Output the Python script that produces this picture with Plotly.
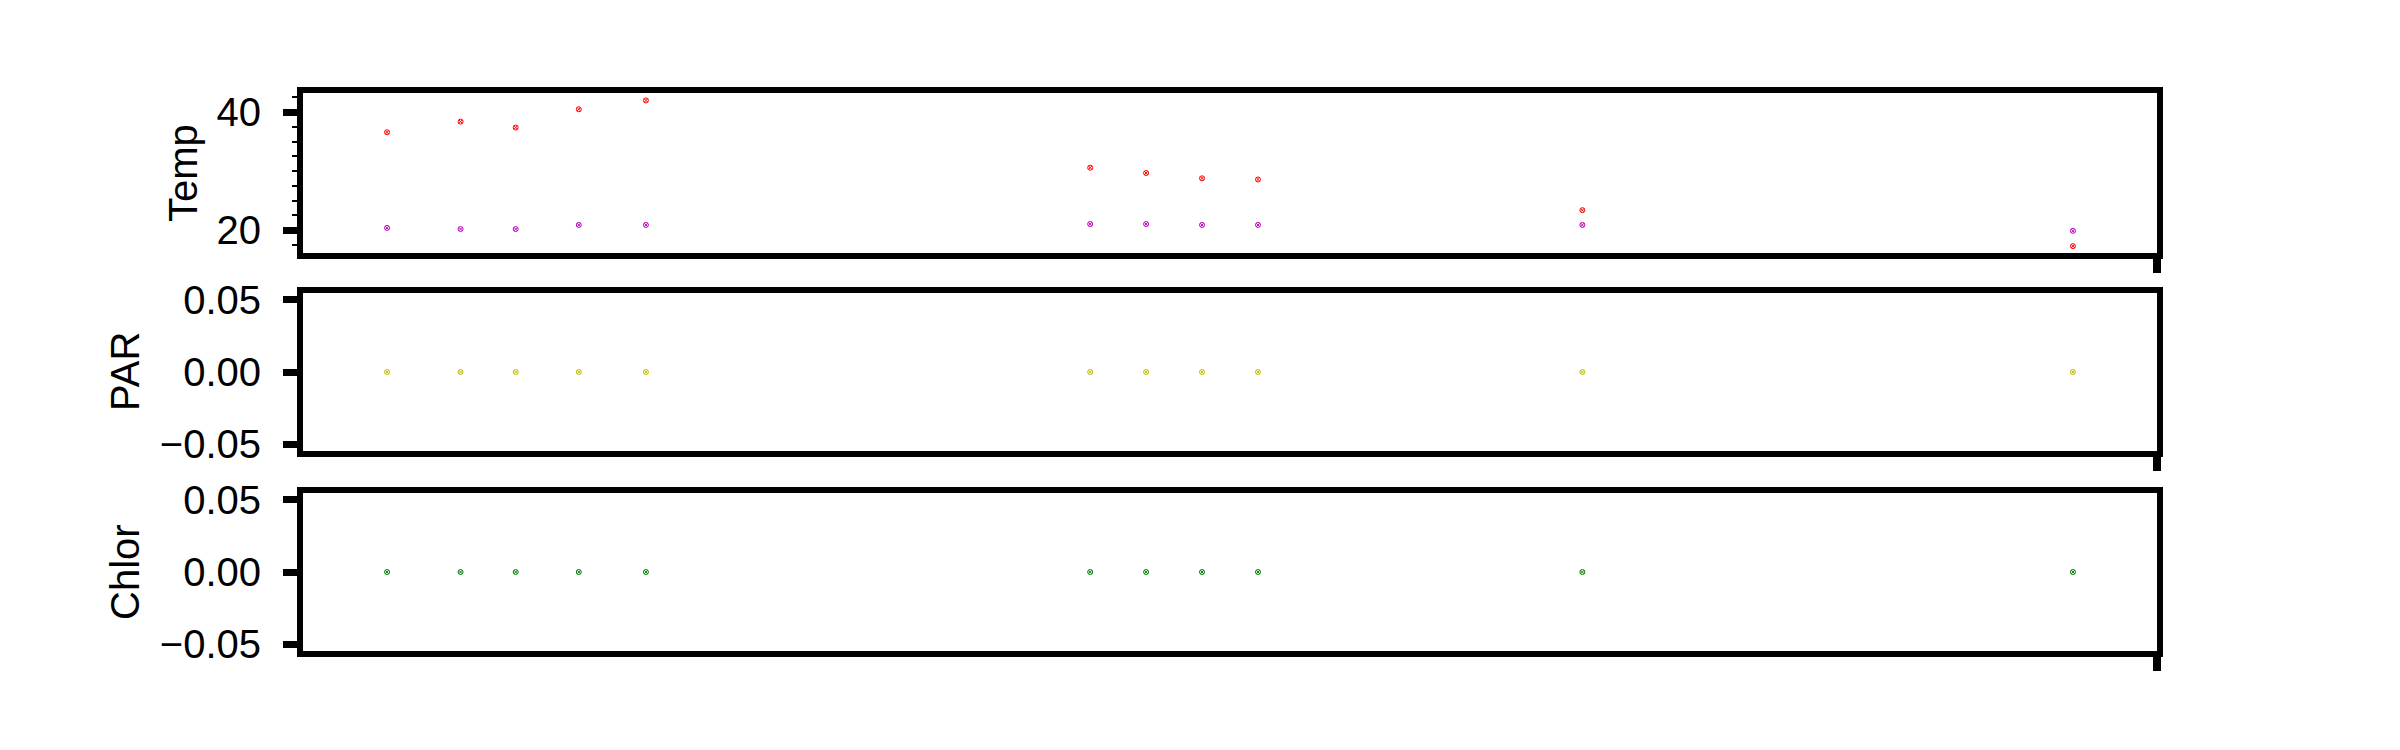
import plotly.graph_objects as go

# ---- data ----
days = [0, 9.2, 16.1, 24.0, 32.4, 88.0, 95.0, 102.0, 109.0, 149.6, 211.0]
temp_red = [36.6, 38.4, 37.4, 40.5, 42.0, 30.6, 29.7, 28.8, 28.6, 23.4, 17.3]
temp_purple = [20.4, 20.2, 20.2, 20.9, 20.9, 21.05, 21.05, 20.9, 20.9, 20.9, 19.9]
par = [0, 0, 0, 0, 0, 0, 0, 0, 0, 0, 0]
chlor = [0, 0, 0, 0, 0, 0, 0, 0, 0, 0, 0]

temp_ticks = [20, 40]
zero_ticks = [-0.05, 0.0, 0.05]
zero_ticktext = ["\u22120.05", "0.00", "0.05"]

W, H = 2400, 750
LW = 5.5
FONT = "Liberation Sans, Arial, sans-serif"

xmin, xmax = min(days), max(days)
pad = 0.05 * (xmax - xmin)
xrange_ = [xmin - pad, xmax + pad]

def px_dom_x(a, b):
    return [(a + LW / 2) / W, (b - LW / 2) / W]

def px_dom_y(top, bottom):
    return [1 - (bottom - LW / 2) / H, 1 - (top + LW / 2) / H]

xdom = px_dom_x(300, 2160)
ydoms = [px_dom_y(90, 256), px_dom_y(290, 454), px_dom_y(490, 654)]

fig = go.Figure()

def mk(color):
    return dict(symbol="circle-x-open", size=5, color=color, line=dict(width=1, color=color))

fig.add_trace(go.Scatter(x=days, y=temp_red, mode="markers", marker=mk("#ff0000"),
                         xaxis="x", yaxis="y", name="Temp"))
fig.add_trace(go.Scatter(x=days, y=temp_purple, mode="markers", marker=mk("#bf00bf"),
                         xaxis="x", yaxis="y", name="Temp 2"))
fig.add_trace(go.Scatter(x=days, y=par, mode="markers", marker=mk("#bfbf00"),
                         xaxis="x2", yaxis="y2", name="PAR"))
fig.add_trace(go.Scatter(x=days, y=chlor, mode="markers", marker=mk("#008000"),
                         xaxis="x3", yaxis="y3", name="Chlor"))

xaxis_common = dict(
    domain=xdom, range=xrange_, showgrid=False, zeroline=False, automargin=False,
    showline=True, linecolor="black", linewidth=LW, mirror=True,
    ticks="outside", ticklen=14, tickwidth=8, tickcolor="black",
    tickmode="array", tickvals=[xrange_[1] - 1e-6], showticklabels=False,
)
yaxis_common = dict(
    showgrid=False, zeroline=False, automargin=False,
    showline=True, linecolor="black", linewidth=LW, mirror=True,
    ticks="outside", ticklen=14, tickwidth=7, tickcolor="black",
    tickfont=dict(family=FONT, size=40, color="black"),
    ticklabelstandoff=14,
)

fig.update_layout(
    template="none",
    width=W, height=H,
    margin=dict(l=0, r=0, t=0, b=0, pad=0, autoexpand=False),
    paper_bgcolor="white", plot_bgcolor="white",
    showlegend=False,
    xaxis=dict(**xaxis_common, anchor="y"),
    xaxis2=dict(**xaxis_common, anchor="y2", matches="x"),
    xaxis3=dict(**xaxis_common, anchor="y3", matches="x"),
    yaxis=dict(**yaxis_common, domain=ydoms[0], anchor="x", range=[16.1, 43.3],
               tickmode="array", tickvals=temp_ticks, ticktext=[str(v) for v in temp_ticks],
               minor=dict(ticks="outside", ticklen=5, tickwidth=2, tickcolor="black",
                          tickmode="linear", tick0=0, dtick=2.5, showgrid=False)),
    yaxis2=dict(**yaxis_common, domain=ydoms[1], anchor="x2", range=[-0.055, 0.055],
                tickmode="array", tickvals=zero_ticks, ticktext=zero_ticktext),
    yaxis3=dict(**yaxis_common, domain=ydoms[2], anchor="x3", range=[-0.055, 0.055],
                tickmode="array", tickvals=zero_ticks, ticktext=zero_ticktext),
)

titles = [("Temp", 183, (90 + 256) / 2), ("PAR", 125, (290 + 454) / 2), ("Chlor", 125, (490 + 654) / 2)]
for text, xc, yc in titles:
    fig.add_annotation(text=text, x=xc / W, y=1 - yc / H, xref="paper", yref="paper",
                       xanchor="center", yanchor="middle", textangle=-90, showarrow=False,
                       font=dict(family=FONT, size=40, color="black"))

fig.write_html("out.html", config={"displayModeBar": False},
               post_script="document.body.style.margin='0';")
